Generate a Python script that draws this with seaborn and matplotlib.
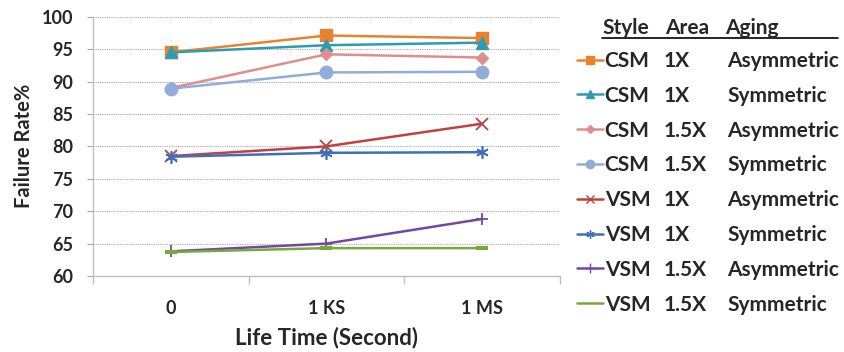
import matplotlib
matplotlib.use("Agg")
import matplotlib.pyplot as plt
from matplotlib.lines import Line2D
import numpy as np
import pandas as pd
import seaborn as sns

# ---- data -------------------------------------------------------------
lifetimes = ["0", "1 KS", "1 MS"]
styles = ["CSM", "CSM", "CSM", "CSM", "VSM", "VSM", "VSM", "VSM"]
areas = ["1X", "1X", "1.5X", "1.5X", "1X", "1X", "1.5X", "1.5X"]
agings = ["Asymmetric", "Symmetric"] * 4

csm_1x_asym = [94.5, 97.1, 96.7]
csm_1x_sym = [94.5, 95.6, 96.0]
csm_15x_asym = [89.0, 94.2, 93.7]
csm_15x_sym = [88.9, 91.4, 91.5]
vsm_1x_asym = [78.5, 80.0, 83.5]
vsm_1x_sym = [78.4, 79.0, 79.1]
vsm_15x_asym = [63.8, 65.0, 68.8]
vsm_15x_sym = [63.7, 64.3, 64.3]

series_values = [csm_1x_asym, csm_1x_sym, csm_15x_asym, csm_15x_sym,
                 vsm_1x_asym, vsm_1x_sym, vsm_15x_asym, vsm_15x_sym]

# ---- styling per series ----------------------------------------------
colors = ["#E8822F", "#2E9BB0", "#DE8E8C", "#92ACDA",
          "#C0413F", "#3C70B8", "#7448A0", "#79A83C"]
markers = ["s", "^", "D", "o", "x", (6, 2, 0), "+", "_"]
msizes = [8, 8, 6, 9, 8, 9, 9, 9]
mews = [1, 1, 1, 1, 1.3, 1.2, 1.3, 3]
leg_msizes = [6, 6, 4, 6, 6, 6, 7, 0]

sns.set_theme(style="white")
plt.rcParams["font.family"] = ["Lato", "DejaVu Sans"]
plt.rcParams["font.weight"] = "bold"

W, H = 845, 352
fig = plt.figure(figsize=(W / 100, H / 100), dpi=100)
ax = fig.add_axes([93 / W, 1 - 276 / H, (560 - 93) / W, (276 - 16.7) / H])

x_pos = np.arange(len(lifetimes))
for i, vals in enumerate(series_values):
    df = pd.DataFrame({"t": x_pos, "rate": vals})
    sns.lineplot(data=df, x="t", y="rate", ax=ax, color=colors[i],
                 marker=markers[i], markersize=msizes[i],
                 markeredgewidth=mews[i], markeredgecolor=colors[i],
                 linewidth=1.8, legend=False, zorder=3 + i)

# ---- axes ---------------------------------------------------------------
ax.set_xlim(-0.5, len(lifetimes) - 0.5)
ax.set_ylim(60, 100)
ax.set_yticks(np.arange(60, 101, 5))
ax.set_xticks(x_pos)
ax.set_xticklabels(lifetimes)
ax.set_xticks(np.arange(-0.5, len(lifetimes), 1.0), minor=True)

grid_c = "#A6A6A6"
axis_c = "#BFBFBF"
ax.yaxis.grid(True, color=grid_c, linestyle=(0, (1, 1)), linewidth=0.8)
ax.xaxis.grid(False)
for side in ["top", "right"]:
    ax.spines[side].set_visible(False)
for side in ["left", "bottom"]:
    ax.spines[side].set_color(axis_c)
    ax.spines[side].set_linewidth(1.0)

ax.tick_params(axis="x", which="major", length=0, pad=17, labelsize=13)
ax.tick_params(axis="x", which="minor", length=5.5, color=axis_c, width=1.0,
               direction="out", bottom=True)
ax.tick_params(axis="y", which="major", length=4.5, color=grid_c, width=0.8,
               direction="out", left=True, pad=10, labelsize=13)
for lab in ax.get_xticklabels() + ax.get_yticklabels():
    lab.set_fontweight("bold")

ax.set_xlabel("Life Time (Second)", fontsize=16, fontweight="bold", labelpad=7)
ax.set_ylabel("Failure Rate%", fontsize=14.5, fontweight="bold", labelpad=5)

# ---- legend -------------------------------------------------------------
LFS = 15
handles = [Line2D([], [], color=colors[i], marker=markers[i],
                  markersize=leg_msizes[i], markeredgewidth=1,
                  markeredgecolor=colors[i], linewidth=1.8)
           for i in range(len(series_values))]
leg = fig.legend(handles, styles, loc="upper left",
                 bbox_to_anchor=(577 / W, 1 - 51 / H), frameon=False,
                 handlelength=1.25, handletextpad=0.08, labelspacing=0.71,
                 borderaxespad=0, borderpad=0,
                 prop={"size": LFS, "weight": "bold"})

fig.canvas.draw()
for txt, area, aging in zip(leg.get_texts(), areas, agings):
    bb = txt.get_window_extent()
    fig.text(664 / W, bb.y0 / H, area, fontsize=LFS, fontweight="bold",
             va="bottom", ha="left")
    fig.text(727 / W, bb.y0 / H, aging, fontsize=LFS, fontweight="bold",
             va="bottom", ha="left")

# header with underline
hy = 1 - 34 / H
fig.text(602 / W, hy, "Style", fontsize=LFS, fontweight="bold", va="baseline")
fig.text(665 / W, hy, "Area", fontsize=LFS, fontweight="bold", va="baseline")
fig.text(725 / W, hy, "Aging", fontsize=LFS, fontweight="bold", va="baseline")
fig.add_artist(Line2D([602 / W, 838 / W], [1 - 37.5 / H, 1 - 37.5 / H],
                      color="black", linewidth=1.2, transform=fig.transFigure))

fig.savefig("out.png", dpi=100, facecolor="white")
